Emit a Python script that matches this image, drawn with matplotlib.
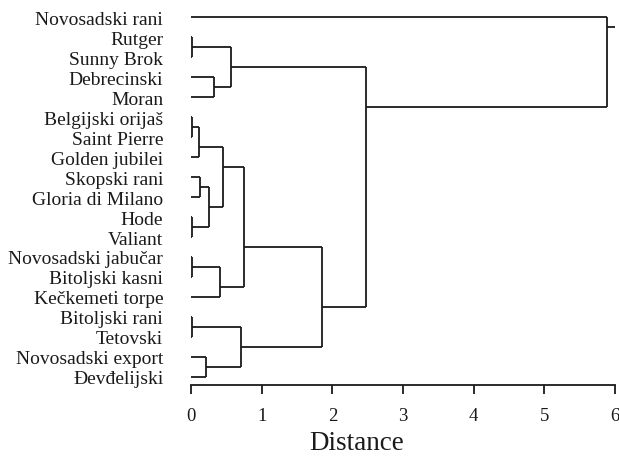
import matplotlib
matplotlib.use("Agg")
import matplotlib.pyplot as plt

# Leaves, top to bottom
leaf_names = ["Novosadski rani", "Rutger", "Sunny Brok", "Debrecinski", "Moran",
              "Belgijski orijaš", "Saint Pierre", "Golden jubilei", "Skopski rani",
              "Gloria di Milano", "Hode", "Valiant", "Novosadski jabučar",
              "Bitoljski kasni", "Kečkemeti torpe", "Bitoljski rani", "Tetovski",
              "Novosadski export", "Đevđelijski"]

# Linkage: node ids 0..18 are leaves, merge k creates node 19+k
merge_left = [1, 3, 19, 5, 22, 8, 10, 24, 23, 12, 28, 27, 15, 17, 31, 30, 21, 0]
merge_right = [2, 4, 20, 6, 7, 9, 11, 25, 26, 13, 14, 29, 16, 18, 32, 33, 34, 35]
merge_height = [0.02, 0.32, 0.57, 0.02, 0.12, 0.13, 0.02, 0.26, 0.45, 0.02, 0.41,
                0.75, 0.02, 0.21, 0.71, 1.85, 2.47, 5.88]

x_ticks = [0, 1, 2, 3, 4, 5, 6]

plt.rcParams['font.family'] = ['Liberation Serif', 'DejaVu Serif']

W, H = 619, 464
fig = plt.figure(figsize=(W / 100, H / 100), dpi=100)
ax = fig.add_axes([191 / W, (H - 386) / H, 424 / W, 386 / H])

n = len(leaf_names)
ypos = {i: float(i) for i in range(n)}
xpos = {i: 0.0 for i in range(n)}
lo = {i: i for i in range(n)}
hi = {i: i for i in range(n)}

lc = '#1a1a1a'
lw = 1.3
for k, (a, b, h) in enumerate(zip(merge_left, merge_right, merge_height)):
    node = n + k
    for c in (a, b):
        ax.plot([xpos[c], h], [ypos[c], ypos[c]], color=lc, lw=lw, solid_capstyle='butt')
    ax.plot([h, h], [ypos[a], ypos[b]], color=lc, lw=lw, solid_capstyle='butt')
    lo[node] = min(lo[a], lo[b])
    hi[node] = max(hi[a], hi[b])
    ypos[node] = min(hi[a], hi[b]) + 0.5
    xpos[node] = h

root = n + len(merge_height) - 1
ax.plot([xpos[root], x_ticks[-1]], [ypos[root], ypos[root]], color=lc, lw=lw,
        solid_capstyle='butt')

ax.set_xlim(x_ticks[0], x_ticks[-1])
ax.set_ylim(n - 1 + 0.4, n - 1 + 0.4 - 19.3)

for s in ('top', 'right', 'left'):
    ax.spines[s].set_visible(False)
ax.spines['bottom'].set_linewidth(1.3)
ax.spines['bottom'].set_color(lc)

ax.set_xticks(x_ticks)
ax.set_xticklabels([str(t) for t in x_ticks], fontsize=13.5)
ax.tick_params(axis='x', direction='out', length=6.5, width=1.3, pad=9, colors=lc)

ax.set_yticks(range(n))
ax.set_yticklabels(leaf_names, fontsize=14)
ax.tick_params(axis='y', length=0, pad=20, colors=lc)

ax.set_xlabel("Distance", fontsize=19.5, color=lc)
ax.xaxis.set_label_coords(0.39, -0.117)

fig.savefig("out.png", dpi=100)
